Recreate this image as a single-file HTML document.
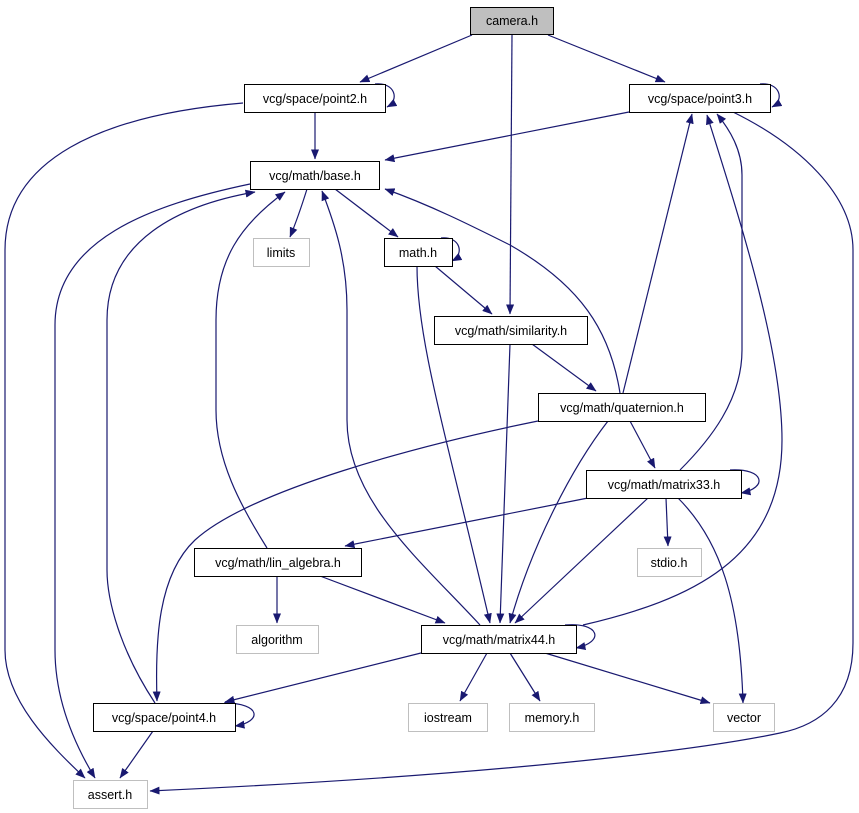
<!DOCTYPE html>
<html><head><meta charset="utf-8"><style>
html,body{margin:0;padding:0;background:#fff;width:859px;height:813px;overflow:hidden}
text{font-family:"Liberation Sans","DejaVu Sans",sans-serif;font-size:12.5px;fill:#000}
</style></head><body>
<svg width="859" height="813" viewBox="0 0 859 813" xmlns="http://www.w3.org/2000/svg">
<defs><marker id="a" markerWidth="10" markerHeight="8" refX="9.5" refY="4" orient="auto" markerUnits="userSpaceOnUse"><path d="M0,0 L10,4 L0,8 z" fill="#191970"/></marker></defs>
<g fill="none" stroke="#191970" stroke-width="1.2" marker-end="url(#a)">
<path d="M472,35 L360,82"/>
<path d="M512,35 L510,314"/>
<path d="M548,35 L665,82"/>
<path d="M375,84 C395,82 400,100 387,107"/>
<path d="M315,112 L315,159"/>
<path d="M243,103 C100,115 5,160 5,250 L5,650 C5,700 50,745 85,778"/>
<path d="M760,84 C780,82 785,100 772,107"/>
<path d="M629,112 L385,160"/>
<path d="M733,112 C800,145 853,195 853,250 L853,643 C853,700 820,725 780,733 C700,750 500,775 150,791"/>
<path d="M307,189 C302,205 297,220 290,237"/>
<path d="M335,189 L398,237"/>
<path d="M250,184 C150,205 55,240 55,325 L55,650 C55,700 75,745 95,778"/>
<path d="M155,703 C120,650 107,600 107,570 L107,320 C107,240 180,205 255,192"/>
<path d="M267,548 C240,505 216,460 216,410 L216,320 C216,260 240,225 285,192"/>
<path d="M480,625 C420,560 347,500 347,420 L347,310 C347,260 335,225 322,191"/>
<path d="M620,393 C610,330 580,285 510,245 C470,225 430,205 385,189"/>
<path d="M623,393 L692,114"/>
<path d="M680,470 C710,440 742,400 742,350 L742,175 C742,150 730,130 717,114"/>
<path d="M583,625 C690,600 782,560 782,440 C782,350 740,220 707,115"/>
<path d="M441,238 C460,236 465,254 452,261"/>
<path d="M435,266 L492,314"/>
<path d="M417,266 C417,340 445,430 490,623"/>
<path d="M532,344 L596,391"/>
<path d="M510,344 L500,623"/>
<path d="M630,421 L655,468"/>
<path d="M608,421 C570,470 530,550 510,623"/>
<path d="M538,421 C420,445 250,490 195,540 C158,575 155,640 157,701"/>
<path d="M730,470 C765,468 768,488 741,493"/>
<path d="M588,498 L345,546"/>
<path d="M666,498 L668,546"/>
<path d="M648,498 L515,623"/>
<path d="M678,498 C720,540 740,600 743,703"/>
<path d="M277,576 L277,623"/>
<path d="M320,576 L445,623"/>
<path d="M565,625 C600,622 605,642 576,648"/>
<path d="M421,653 L225,702"/>
<path d="M487,653 L460,701"/>
<path d="M510,653 L540,701"/>
<path d="M545,653 L710,703"/>
<path d="M224,703 C262,703 262,722 235,726"/>
<path d="M153,731 L120,778"/>
</g>
<g stroke-width="1">
<rect x="470.5" y="7.5" width="83" height="27" fill="#bfbfbf" stroke="#000"/>
<rect x="244.5" y="84.5" width="141" height="28" fill="#fff" stroke="#000"/>
<rect x="629.5" y="84.5" width="141" height="28" fill="#fff" stroke="#000"/>
<rect x="250.5" y="161.5" width="129" height="28" fill="#fff" stroke="#000"/>
<rect x="253.5" y="238.5" width="56" height="28" fill="#fff" stroke="#bfbfbf"/>
<rect x="384.5" y="238.5" width="68" height="28" fill="#fff" stroke="#000"/>
<rect x="434.5" y="316.5" width="153" height="28" fill="#fff" stroke="#000"/>
<rect x="538.5" y="393.5" width="167" height="28" fill="#fff" stroke="#000"/>
<rect x="586.5" y="470.5" width="155" height="28" fill="#fff" stroke="#000"/>
<rect x="637.5" y="548.5" width="64" height="28" fill="#fff" stroke="#bfbfbf"/>
<rect x="194.5" y="548.5" width="167" height="28" fill="#fff" stroke="#000"/>
<rect x="236.5" y="625.5" width="82" height="28" fill="#fff" stroke="#bfbfbf"/>
<rect x="421.5" y="625.5" width="155" height="28" fill="#fff" stroke="#000"/>
<rect x="93.5" y="703.5" width="142" height="28" fill="#fff" stroke="#000"/>
<rect x="408.5" y="703.5" width="79" height="28" fill="#fff" stroke="#bfbfbf"/>
<rect x="509.5" y="703.5" width="85" height="28" fill="#fff" stroke="#bfbfbf"/>
<rect x="713.5" y="703.5" width="61" height="28" fill="#fff" stroke="#bfbfbf"/>
<rect x="73.5" y="780.5" width="74" height="28" fill="#fff" stroke="#bfbfbf"/>
</g>
<g text-anchor="middle">
<text x="512" y="25">camera.h</text>
<text x="315" y="103">vcg/space/point2.h</text>
<text x="700" y="103">vcg/space/point3.h</text>
<text x="315" y="180">vcg/math/base.h</text>
<text x="281" y="257">limits</text>
<text x="418" y="257">math.h</text>
<text x="511" y="335">vcg/math/similarity.h</text>
<text x="622" y="412">vcg/math/quaternion.h</text>
<text x="664" y="489">vcg/math/matrix33.h</text>
<text x="669" y="567">stdio.h</text>
<text x="278" y="567">vcg/math/lin_algebra.h</text>
<text x="277" y="644">algorithm</text>
<text x="499" y="644">vcg/math/matrix44.h</text>
<text x="164" y="722">vcg/space/point4.h</text>
<text x="448" y="722">iostream</text>
<text x="552" y="722">memory.h</text>
<text x="744" y="722">vector</text>
<text x="110" y="799">assert.h</text>
</g>
</svg>
</body></html>
